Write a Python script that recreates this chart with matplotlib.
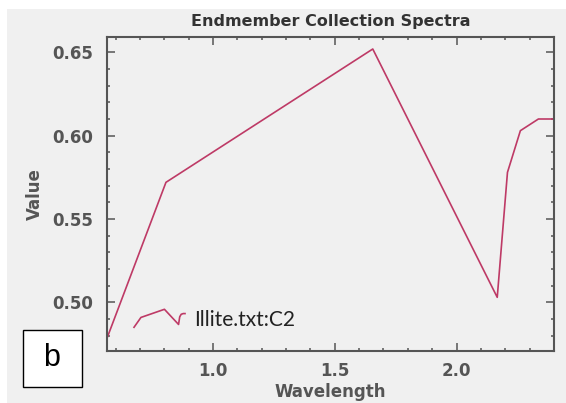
import numpy as np
import matplotlib
matplotlib.use("Agg")
import matplotlib.pyplot as plt
from matplotlib.lines import Line2D
from matplotlib.legend_handler import HandlerBase
from matplotlib.patches import Rectangle
from matplotlib.ticker import MultipleLocator, FormatStrFormatter

# spectrum (wavelength in um)
wavelength = [0.556, 0.807, 1.656, 2.167, 2.209, 2.262, 2.336, 2.400]
value = [0.475, 0.572, 0.652, 0.503, 0.578, 0.603, 0.610, 0.610]
series_name = "Illite.txt:C2"

line_color = "#be3a66"
text_gray = "#555555"
bg_gray = "#f0f0f0"


class SpectrumHandler(HandlerBase):
    # legend icon = small copy of the spectrum, baseline at y=0 (points)
    def create_artists(self, legend, orig_handle, xdescent, ydescent,
                       width, height, fontsize, trans):
        xs = np.asarray(orig_handle.get_xdata(), dtype=float)
        ys = np.asarray(orig_handle.get_ydata(), dtype=float)
        nx = (xs - xs.min()) / (xs.max() - xs.min())
        ny = (ys - ys.min()) / (ys.max() - ys.min())
        ln = Line2D(-xdescent + nx * width, (-1.3 + ny * 18) * 0.72,
                    color=orig_handle.get_color(), lw=orig_handle.get_linewidth())
        ln.set_transform(trans)
        return [ln]


W, H = 566, 403
fig = plt.figure(figsize=(W / 100, H / 100), dpi=100, facecolor="white")
fig.patches.append(Rectangle((7 / W, 0), 1, 1 - 9 / H, transform=fig.transFigure,
                             facecolor=bg_gray, edgecolor="none", zorder=-10))

ax = fig.add_axes([107 / W, 1 - 351 / H, (554 - 107) / W, (351 - 37) / H])
ax.set_facecolor(bg_gray)

line, = ax.plot(wavelength, value, color=line_color, lw=1.2, label=series_name)

ax.set_xlim(0.565, 2.400)
ax.set_ylim(0.4708, 0.6592)
ax.xaxis.set_major_locator(MultipleLocator(0.5))
ax.xaxis.set_minor_locator(MultipleLocator(0.1))
ax.yaxis.set_major_locator(MultipleLocator(0.05))
ax.yaxis.set_minor_locator(MultipleLocator(0.01))
ax.xaxis.set_major_formatter(FormatStrFormatter("%.1f"))
ax.yaxis.set_major_formatter(FormatStrFormatter("%.2f"))

for s in ax.spines.values():
    s.set_color(text_gray)
    s.set_linewidth(1.5)
ax.tick_params(which="both", direction="in", top=True, right=True,
               color=text_gray, width=1.1)
ax.tick_params(which="major", length=5.5)
ax.tick_params(which="minor", length=2.5)
ax.tick_params(axis="y", which="major", pad=10, labelsize=12, labelcolor=text_gray)
ax.tick_params(axis="x", which="major", pad=8, labelsize=12, labelcolor=text_gray)
for lab in ax.get_xticklabels() + ax.get_yticklabels():
    lab.set_fontweight("bold")

ax.set_title("Endmember Collection Spectra", fontsize=11.5, fontweight="bold",
             color="#333333", pad=8)
ax.set_xlabel("Wavelength", fontsize=12, fontweight="bold", color=text_gray, labelpad=2)
ax.set_ylabel("Value", fontsize=12, fontweight="bold", color=text_gray, labelpad=6)

fs = 15
fpx = fs * 100 / 72
ax.legend(handles=[line], handler_map={Line2D: SpectrumHandler()},
          loc="lower left", bbox_to_anchor=(134 / W, 1 - 330 / H),
          bbox_transform=fig.transFigure, frameon=False, borderpad=0,
          borderaxespad=0, handlelength=51 / fpx, handleheight=0.7,
          handletextpad=9 / fpx, labelcolor="#222222",
          prop={"family": "Lato", "size": fs})

# panel letter box
fig.patches.append(Rectangle((23 / W, 1 - 387 / H), 59 / W, 57 / H,
                             transform=fig.transFigure, facecolor="white",
                             edgecolor="black", lw=1, zorder=2))
fig.text(52 / W, 1 - 358 / H, "b", fontsize=22, family="Liberation Sans",
         ha="center", va="center", zorder=3)

fig.savefig("out.png", dpi=100)
